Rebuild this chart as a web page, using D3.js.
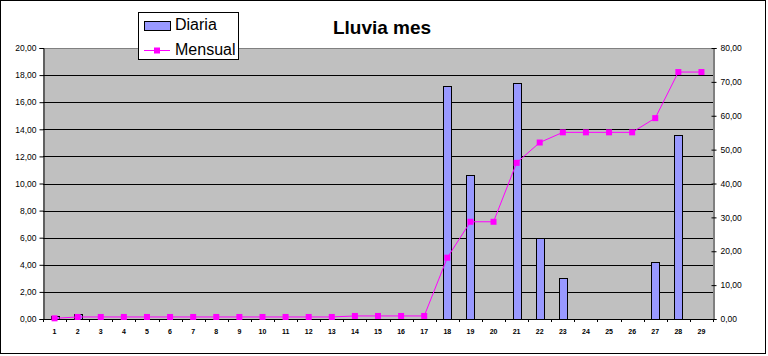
<!DOCTYPE html>
<html><head><meta charset="utf-8">
<script src="https://cdn.jsdelivr.net/npm/d3@7"></script>
<style>
html,body{margin:0;padding:0;background:#fff;}
svg{display:block;font-family:Arial,"Liberation Sans",sans-serif;}
</style></head>
<body><svg id="c" width="768" height="356"></svg>
<script>
const days = ["1","2","3","4","5","6","7","8","9","10","11","12","13","14","15","16","17","18","19","20","21","22","23","24","25","26","27","28","29"];
const diaria = [0.2,0.4,0,0,0,0,0,0,0,0,0,0,0,0,0,0,0,17.2,10.6,0,17.4,6.0,3.0,0,0,0,4.2,13.6,0];
const mensual = [0.2,0.6,0.6,0.6,0.6,0.6,0.6,0.6,0.6,0.6,0.6,0.6,0.6,0.9,0.9,0.9,0.9,18.1,28.7,28.7,46.1,52.1,55.1,55.1,55.1,55.1,59.3,72.9,72.9];
const leftTicks = [0,2,4,6,8,10,12,14,16,18,20];
const rightTicks = [0,10,20,30,40,50,60,70,80];
const title = "Lluvia mes";
const seriesNames = ["Diaria","Mensual"];

const svg = d3.select("#c");
const L = 43, R = 713, T = 48, B = 319;
const loc = d3.formatLocale({decimal:",",thousands:".",grouping:[3],currency:["",""]});
const fmt = loc.format(".2f");

// outer frame
svg.append("rect").attr("x",0.5).attr("y",0.5).attr("width",765).attr("height",353)
  .attr("fill","#fff").attr("stroke","#000");

const x = d3.scaleBand().domain(days).range([L,R]).paddingInner(0.65).paddingOuter(0.325);
const xStep = d3.scaleBand().domain(days).range([L,R]);
const yL = d3.scaleLinear().domain([0,20]).range([B,T]);
const yR = d3.scaleLinear().domain([0,80]).range([B,T]);

// plot area
svg.append("rect").attr("x",L).attr("y",T).attr("width",R-L).attr("height",B-T).attr("fill","#c0c0c0");
// gridlines
svg.append("g").selectAll("line").data(leftTicks.filter(d=>d>0)).join("line")
  .attr("x1",L).attr("x2",R).attr("y1",d=>Math.round(yL(d))+0.5).attr("y2",d=>Math.round(yL(d))+0.5)
  .attr("stroke",d=>d===20?"#808080":"#000");

// bars
svg.append("g").selectAll("rect").data(diaria.map((v,i)=>({d:days[i],v}))).join("rect")
  .filter(d=>d.v>0)
  .attr("x",d=>Math.round(x(d.d))+0.5).attr("width",Math.round(x.bandwidth()))
  .attr("y",d=>Math.round(yL(d.v))+0.5).attr("height",d=>Math.round(B-yL(d.v)))
  .attr("fill","#9999ff").attr("stroke","#000");

// left axis
const ga = svg.append("g").attr("transform",`translate(${L+0.5},0)`)
  .call(d3.axisLeft(yL).tickValues(leftTicks).tickFormat(fmt).tickSize(4).tickPadding(3));
// right axis
const gr = svg.append("g").attr("transform",`translate(${R+0.5},0)`)
  .call(d3.axisRight(yR).tickValues(rightTicks).tickFormat(fmt).tickSize(3).tickPadding(4));
gr.selectAll(".tick line").attr("x1",-2);
// bottom axis
const gb = svg.append("g").attr("transform",`translate(0,${B+0.5})`)
  .call(d3.axisBottom(xStep).tickSize(0).tickPadding(10));
// boundary ticks
svg.append("g").selectAll("line").data(days.concat(["end"])).join("line")
  .attr("x1",(d,i)=>Math.round(L+i*xStep.step())+0.5).attr("x2",(d,i)=>Math.round(L+i*xStep.step())+0.5)
  .attr("y1",B).attr("y2",B+3).attr("stroke","#000");

[ga,gr,gb].forEach(g=>{
  g.select(".domain").attr("stroke","#000");
  g.selectAll(".tick line").attr("stroke","#000");
  g.selectAll("text").attr("fill","#000").attr("font-family","Arial, 'Liberation Sans', sans-serif");
});
ga.selectAll("text").attr("font-size","8.5px");
gr.selectAll("text").attr("font-size","8.5px");
gb.selectAll("text").attr("font-size","7px").attr("font-weight","bold");
gb.select(".domain").attr("d",`M${L},0H${R}`);

// line
const cx = d=>xStep(d)+xStep.bandwidth()/2;
const pts = mensual.map((v,i)=>({d:days[i],v}));
svg.append("path").datum(pts)
  .attr("d",d3.line().x(p=>cx(p.d)).y(p=>yR(p.v)))
  .attr("fill","none").attr("stroke","#ff00ff").attr("stroke-width",1);
svg.append("g").selectAll("rect").data(pts).join("rect")
  .attr("x",p=>cx(p.d)-3).attr("y",p=>yR(p.v)-3).attr("width",6).attr("height",6)
  .attr("fill","#ff00ff");

// title
svg.append("text").attr("x",382).attr("y",34).attr("text-anchor","middle")
  .attr("font-size","19px").attr("font-weight","bold").text(title);

// legend
const lg = svg.append("g");
lg.append("rect").attr("x",138.5).attr("y",12.5).attr("width",100).attr("height",47)
  .attr("fill","#fff").attr("stroke","#000");
lg.append("rect").attr("x",144.5).attr("y",21.5).attr("width",26).attr("height",9)
  .attr("fill","#9999ff").attr("stroke","#000");
lg.append("text").attr("x",175).attr("y",30).attr("font-size","16px").text(seriesNames[0]);
lg.append("line").attr("x1",144).attr("x2",170).attr("y1",50.5).attr("y2",50.5).attr("stroke","#ff00ff");
lg.append("rect").attr("x",154).attr("y",47.5).attr("width",6).attr("height",6).attr("fill","#ff00ff");
lg.append("text").attr("x",175).attr("y",55).attr("font-size","16px").text(seriesNames[1]);
</script></body></html>
